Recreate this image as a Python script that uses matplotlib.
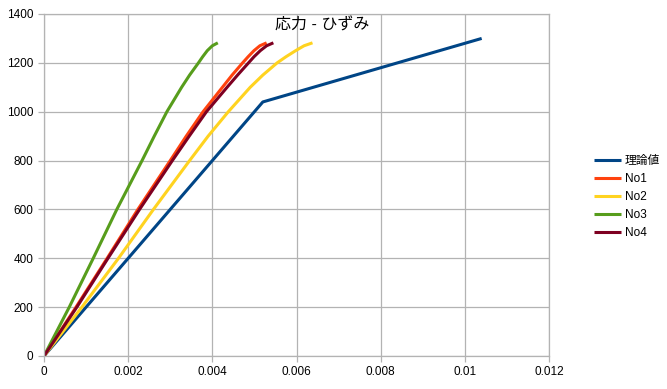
import numpy as np
import matplotlib.pyplot as plt

plt.rcParams['font.family'] = ['Liberation Sans', 'Noto Sans CJK JP', 'DejaVu Sans']

# theoretical line
strain_th = [0, 0.0052, 0.0104]
stress_th = [0, 1040, 1300]

stress_exp = [0, 200, 400, 600, 800, 900, 1000, 1100, 1150, 1200, 1225, 1250, 1270, 1282]
strain_no1 = [0, 0.00076, 0.00150, 0.00223, 0.0030, 0.00338, 0.00378, 0.00424, 0.00447,
              0.00472, 0.00485, 0.00499, 0.00513, 0.00529]
strain_no2 = [0, 0.00090, 0.00177, 0.0026, 0.00346, 0.0039, 0.00438, 0.0049, 0.0052,
              0.00554, 0.00575, 0.00598, 0.00618, 0.00638]
strain_no3 = [0, 0.00060, 0.00117, 0.00173, 0.00233, 0.00262, 0.00292, 0.00327, 0.00346,
              0.00367, 0.00377, 0.00388, 0.00400, 0.00413]
strain_no4 = [0, 0.00078, 0.00152, 0.00227, 0.00305, 0.00345, 0.00386, 0.00435, 0.0046,
              0.00486, 0.00499, 0.00514, 0.00529, 0.00545]

labels = ['理論値', 'No1', 'No2', 'No3', 'No4']
colors = ['#004586', '#ff420e', '#ffd320', '#579d1c', '#7e0021']

fig = plt.figure(figsize=(6.67, 3.89), dpi=100)
ax = fig.add_axes([44/667, 33/389, 505/667, 342/389])

series = [(strain_th, stress_th), (strain_no1, stress_exp), (strain_no2, stress_exp),
          (strain_no3, stress_exp), (strain_no4, stress_exp)]
for (x, y), lab, c in zip(series, labels, colors):
    ax.plot(x, y, color=c, lw=2.2, label=lab, solid_joinstyle='round', solid_capstyle='butt')

ax.set_xlim(0, 0.012)
ax.set_ylim(0, 1400)
ax.set_xticks(np.arange(0, 0.0121, 0.002))
ax.set_xticklabels(['0', '0.002', '0.004', '0.006', '0.008', '0.01', '0.012'])
ax.set_yticks(np.arange(0, 1401, 200))
ax.grid(True, color='#b3b3b3', lw=0.9)
ax.set_axisbelow(True)
for s in ax.spines.values():
    s.set_color('#b3b3b3')
    s.set_linewidth(0.9)
ax.tick_params(colors='#b3b3b3', labelcolor='black', labelsize=8.5, length=4, width=0.9)

fig.text(322/667, 1 - 25/389, '応力 - ひずみ', ha='center', va='center', fontsize=11.5)

fig.legend(loc='center left', bbox_to_anchor=(583/667, 1 - 197/389), frameon=False,
           fontsize=8.5, handlelength=2.3, handletextpad=0.35, labelspacing=0.5)

fig.savefig('out.png', dpi=100)
